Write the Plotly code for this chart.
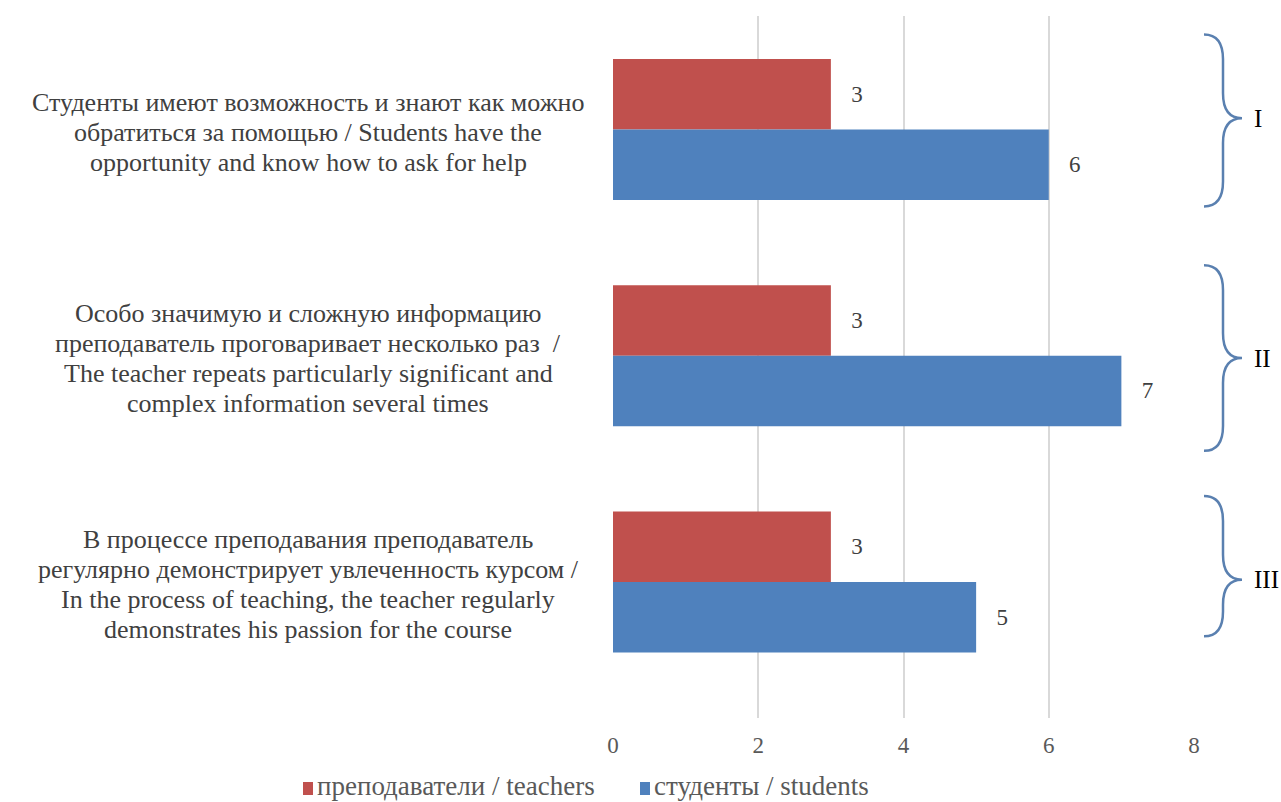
import plotly.graph_objects as go

category_lines = [
    ["Студенты имеют возможность и знают как можно",
     "обратиться за помощью / Students have the",
     "opportunity and know how to ask for help"],
    ["Особо значимую и сложную информацию",
     "преподаватель проговаривает несколько раз  /",
     "The teacher repeats particularly significant and",
     "complex information several times"],
    ["В процессе преподавания преподаватель",
     "регулярно демонстрирует увлеченность курсом /",
     "In the process of teaching, the teacher regularly",
     "demonstrates his passion for the course"],
]
group_labels = ["I", "II", "III"]
series_names = ["преподаватели / teachers", "студенты / students"]
teachers = [3, 3, 3]
students = [6, 7, 5]
x_ticks = [0, 2, 4, 6, 8]

RED = "#C0504D"
BLUE = "#4F81BD"
FONT = "'Liberation Serif', 'Times New Roman', Tinos, 'DejaVu Serif', serif"

W, H = 1281, 802
L, R, T, B = 613, 87, 16, 84
pw = W - L - R
ph = H - T - B

pos = list(range(len(category_lines)))


def px2paper(px):
    return (px - L) / pw


def py2paper(py):
    return (H - B - py) / ph


fig = go.Figure()
for name, vals, col in [(series_names[0], teachers, RED), (series_names[1], students, BLUE)]:
    fig.add_trace(go.Bar(
        y=pos, x=vals, orientation="h", name=name,
        marker=dict(color=col, line=dict(width=0)),
        text=vals, texttemplate="\u00a0\u00a0\u00a0%{x}", textposition="outside",
        textfont=dict(family=FONT, size=23, color="#404040"), cliponaxis=False,
    ))

annotations = []
LINE_H = 30
for i, lines in enumerate(category_lines):
    n = len(lines)
    for j, line in enumerate(lines):
        annotations.append(dict(
            x=px2paper(308), xref="paper", y=pos[i], yref="y",
            yshift=-((j - (n - 1) / 2) * LINE_H + 2.5),
            text=line, showarrow=False, xanchor="center", yanchor="middle",
            font=dict(family=FONT, size=26, color="#404040"),
        ))

# braces (x in paper units, y in axis units)
brace_specs = [(-0.42, -0.05, 0.34), (0.60, 1.01, 1.42), (1.62, 1.99, 2.24)]
shapes = []
x1, x2, x3 = px2paper(1204), px2paper(1223), px2paper(1242)
r = 0.11
for k, (yt, ym, yb) in enumerate(brace_specs):
    path = (f"M {x1},{yt} Q {x2},{yt} {x2},{yt + r} L {x2},{ym - r} "
            f"Q {x2},{ym} {x3},{ym} Q {x2},{ym} {x2},{ym + r} L {x2},{yb - r} "
            f"Q {x2},{yb} {x1},{yb}")
    shapes.append(dict(type="path", path=path, xref="paper", yref="y",
                       line=dict(color="#5A80B0", width=2.5)))
    annotations.append(dict(
        x=px2paper(1252), xref="paper", y=ym, yref="y", text=group_labels[k],
        showarrow=False, xanchor="left", yanchor="middle",
        font=dict(family=FONT, size=25, color="#000000"),
    ))

# legend drawn manually (small square right next to the text)
legend_items = [(series_names[0], RED, 303), (series_names[1], BLUE, 640)]
for name, col, px in legend_items:
    shapes.append(dict(type="rect", xref="paper", yref="paper",
                       x0=px2paper(px), x1=px2paper(px + 10),
                       y0=py2paper(795), y1=py2paper(782),
                       fillcolor=col, line=dict(width=0)))
    annotations.append(dict(
        x=px2paper(px + 12), xref="paper", y=py2paper(786), yref="paper",
        text=name, showarrow=False, xanchor="left", yanchor="middle",
        font=dict(family=FONT, size=27, color="#595959"),
    ))

fig.update_layout(
    width=W, height=H,
    margin=dict(l=L, r=R, t=T, b=B, pad=0, autoexpand=False),
    paper_bgcolor="white", plot_bgcolor="white",
    barmode="group", bargap=0.377, bargroupgap=0,
    font=dict(family=FONT, color="#595959"),
    xaxis=dict(range=[0, 8], tickvals=x_ticks, showgrid=True, gridcolor="#D9D9D9",
               gridwidth=2, zeroline=False, showline=False,
               ticks="outside", ticklen=6, tickcolor="rgba(0,0,0,0)",
               tickfont=dict(family=FONT, size=23, color="#595959")),
    yaxis=dict(range=[2.6011, -0.5017], showticklabels=False, showgrid=False,
               zeroline=False, showline=False),
    showlegend=False,
    annotations=annotations, shapes=shapes,
)

fig.write_html("out.html", config={"displayModeBar": False},
               post_script="document.body.style.margin='0';")
